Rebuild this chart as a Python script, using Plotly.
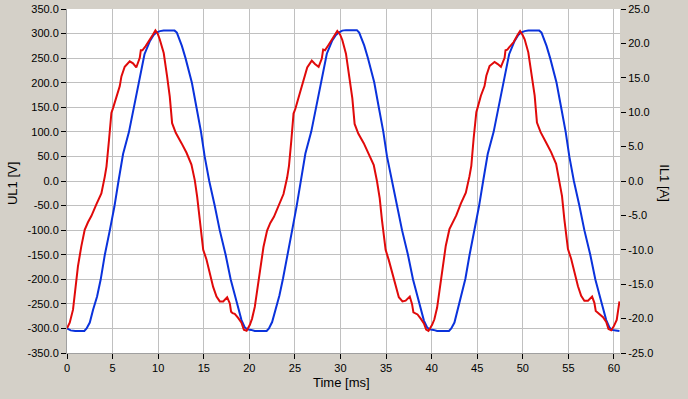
import plotly.graph_objects as go

# ---- data ----
red_time_ms = [
    0.0, 0.3, 0.66, 1.02, 1.2, 1.57, 1.94, 2.3, 2.67, 3.22, 3.77, 4.14, 4.33, 4.61, 4.87, 5.05, 5.42, 5.79, 5.97, 6.33,
    6.88, 7.24, 7.6, 7.98, 8.1, 8.27, 8.63, 9.0, 9.44, 9.7, 9.95, 10.17, 10.61, 10.98, 11.27, 11.53, 11.93, 12.56, 13.11, 13.65,
    14.02, 14.28, 14.57, 14.76, 14.94, 15.3, 15.67, 16.03, 16.4, 16.76, 17.13, 17.57, 17.86, 18.0, 18.16, 18.4, 18.77, 19.14, 19.4, 19.7,
    20.06, 20.3, 20.6, 20.97, 21.2, 21.55, 21.95, 22.3, 22.7, 23.2, 23.75, 24.15, 24.35, 24.6, 24.85, 25.05, 25.4, 25.8, 26.0, 26.35,
    26.85, 27.2, 27.6, 27.95, 28.1, 28.3, 28.65, 29.0, 29.4, 29.65, 29.95, 30.2, 30.6, 31.0, 31.3, 31.55, 31.95, 32.55, 33.1, 33.65,
    34.0, 34.3, 34.55, 34.75, 34.95, 35.3, 35.7, 36.05, 36.4, 36.8, 37.15, 37.6, 37.85, 38.0, 38.2, 38.45, 38.8, 39.15, 39.4, 39.65,
    40.05, 40.3, 40.6, 40.95, 41.2, 41.55, 41.95, 42.3, 42.7, 43.2, 43.75, 44.15, 44.35, 44.6, 44.9, 45.05, 45.4, 45.8, 46.0, 46.35,
    46.9, 47.25, 47.6, 48.0, 48.1, 48.3, 48.65, 49.0, 49.45, 49.7, 49.95, 50.2, 50.6, 51.0, 51.3, 51.55, 51.95, 52.55, 53.1, 53.65,
    54.0, 54.3, 54.55, 54.75, 54.95, 55.3, 55.65, 56.05, 56.4, 56.75, 57.15, 57.6, 57.85, 58.0, 58.2, 58.4, 58.8, 59.15, 59.4, 59.7,
    59.95, 60.3, 60.6,
]
il1_amps = [
    -21.4, -20.6, -18.7, -14.9, -12.4, -9.5, -7.1, -6.0, -5.1, -3.4, -1.8, 0.6, 2.1, 6.0, 9.9, 10.6, 12.3, 13.8, 15.2, 16.6,
    17.4, 17.1, 16.5, 17.9, 19.0, 19.0, 19.6, 20.3, 21.3, 21.9, 21.4, 20.6, 18.6, 15.2, 12.3, 8.4, 7.0, 5.5, 4.1, 2.4,
    0.1, -2.3, -5.6, -8.1, -10.0, -11.4, -13.4, -15.4, -16.8, -17.5, -17.5, -16.9, -17.8, -19.0, -19.2, -19.3, -19.9, -20.6, -21.6, -21.75,
    -20.9, -20.0, -18.3, -14.9, -12.6, -9.6, -7.2, -6.1, -5.2, -3.5, -1.9, 0.5, 2.2, 5.8, 9.8, 10.5, 12.2, 13.9, 15.1, 16.5,
    17.5, 17.0, 16.6, 17.8, 19.1, 19.0, 19.7, 20.4, 21.2, 21.8, 21.3, 20.5, 18.5, 15.0, 12.0, 8.3, 6.9, 5.5, 4.0, 2.3,
    0.0, -2.5, -5.7, -8.2, -10.0, -11.5, -13.5, -15.5, -16.9, -17.5, -17.4, -16.8, -17.9, -19.1, -19.2, -19.4, -20.0, -20.7, -21.6, -21.8,
    -20.9, -20.1, -18.4, -15.0, -12.5, -9.4, -7.0, -6.0, -5.0, -3.3, -1.7, 0.7, 2.2, 6.1, 10.0, 10.7, 12.4, 13.8, 15.3, 16.7,
    17.3, 17.0, 16.6, 17.9, 19.0, 19.1, 19.6, 20.2, 21.3, 21.8, 21.3, 20.6, 18.7, 15.3, 12.4, 8.5, 7.1, 5.6, 4.2, 2.5,
    0.2, -2.2, -5.5, -8.0, -9.9, -11.3, -13.3, -15.3, -16.7, -17.4, -17.4, -16.8, -17.7, -18.9, -19.1, -19.3, -19.8, -20.5, -21.5, -21.7,
    -21.2, -20.2, -17.5,
]

blue_time_ms = [
    0.0, 0.4, 0.9, 1.9, 2.15, 2.5, 2.86, 3.3, 3.7, 4.15, 4.7, 5.2, 5.65, 6.15, 6.8, 7.35, 7.9, 8.5, 9.1, 9.5,
    9.8, 10.2, 10.6, 11.8, 12.05, 12.3, 12.6, 13.0, 13.7, 14.2, 14.7, 15.1, 15.6, 16.2, 16.75, 17.4, 17.95, 18.6, 19.14, 19.5, 19.8,
    20.2, 20.6, 21.9, 22.15, 22.5, 22.85, 23.3, 23.7, 24.15, 24.7, 25.2, 25.65, 26.15, 26.8, 27.35, 27.9, 28.5, 29.1, 29.5,
    29.8, 30.2, 30.6, 31.8, 32.05, 32.3, 32.6, 33.0, 33.7, 34.2, 34.7, 35.1, 35.6, 36.2, 36.75, 37.4, 37.95, 38.6, 39.15, 39.5, 39.8,
    40.2, 40.6, 41.9, 42.15, 42.5, 42.85, 43.3, 43.7, 44.15, 44.7, 45.2, 45.65, 46.15, 46.8, 47.35, 47.9, 48.5, 49.1, 49.5,
    49.8, 50.2, 50.6, 51.8, 52.05, 52.3, 52.6, 53.0, 53.7, 54.2, 54.7, 55.1, 55.6, 56.2, 56.75, 57.4, 57.95, 58.6, 59.15, 59.5, 59.8,
    60.2, 60.6,
]
ul1_volts = [
    -300, -304, -305, -305, -300, -288, -262, -235, -200, -150, -100, -52, 0, 55, 100, 150, 205, 258, 285, 297,
    302, 305, 306, 306, 302, 290, 275, 250, 200, 150, 100, 50, 0, -50, -100, -150, -200, -245, -283, -298, -302,
    -303, -305, -305, -300, -287, -263, -233, -198, -150, -100, -50, 2, 56, 101, 151, 206, 259, 286, 297,
    302, 306, 307, 307, 302, 291, 276, 251, 201, 150, 100, 50, 1, -50, -100, -150, -200, -246, -284, -298, -302,
    -303, -305, -305, -300, -288, -262, -234, -199, -151, -101, -51, 0, 55, 100, 150, 205, 258, 285, 297,
    302, 305, 306, 306, 302, 290, 275, 250, 200, 150, 100, 50, 0, -50, -100, -150, -200, -245, -283, -298, -303,
    -304, -305,
]

x_tick_values = [0, 5, 10, 15, 20, 25, 30, 35, 40, 45, 50, 55, 60]
x_tick_labels = ["0", "5", "10", "15", "20", "25", "30", "35", "40", "45", "50", "55", "60"]
y_tick_values = [-350, -300, -250, -200, -150, -100, -50, 0, 50, 100, 150, 200, 250, 300, 350]
y_tick_labels = ["-350.0", "-300.0", "-250.0", "-200.0", "-150.0", "-100.0", "-50.0", "0.0",
                 "50.0", "100.0", "150.0", "200.0", "250.0", "300.0", "350.0"]
y2_tick_values = [-25, -20, -15, -10, -5, 0, 5, 10, 15, 20, 25]
y2_tick_labels = ["-25.0", "-20.0", "-15.0", "-10.0", "-5.0", "0.0", "5.0", "10.0", "15.0", "20.0", "25.0"]

# ---- figure ----
tick_font = dict(family="Liberation Sans Narrow, Arial Narrow, Liberation Sans, Arial", size=11, color="black")
title_font = dict(family="Liberation Sans, Arial", size=13, color="black")

fig = go.Figure()
fig.add_trace(go.Scatter(x=blue_time_ms, y=ul1_volts, mode="lines", name="UL1",
                         line=dict(color="#0A32DC", width=2), yaxis="y"))
fig.add_trace(go.Scatter(x=red_time_ms, y=il1_amps, mode="lines", name="IL1",
                         line=dict(color="#E00A0A", width=2), yaxis="y2"))

fig.update_layout(
    width=688, height=399,
    margin=dict(l=67, r=68, t=9, b=46, autoexpand=False),
    paper_bgcolor="#D4D0C8",
    plot_bgcolor="white",
    showlegend=False,
    xaxis=dict(range=[0, 60.66], tickvals=x_tick_values, ticktext=x_tick_labels, automargin=False,
               showgrid=True, gridcolor="#C0C0C0", gridwidth=1, zeroline=False,
               showline=True, linecolor="#A0A0A0", linewidth=1,
               ticks="outside", ticklen=5, tickcolor="black", tickfont=tick_font),
    yaxis=dict(range=[-350, 350], tickvals=y_tick_values, ticktext=y_tick_labels, automargin=False,
               showgrid=True, gridcolor="#C0C0C0", gridwidth=1, zeroline=False,
               showline=True, linecolor="#A0A0A0", linewidth=1,
               ticks="outside", ticklen=5, tickcolor="black", tickfont=tick_font),
    yaxis2=dict(range=[-25, 25], tickvals=y2_tick_values, ticktext=y2_tick_labels, automargin=False,
                overlaying="y", side="right", showgrid=False, zeroline=False,
                showline=False, ticks="outside", ticklen=5, tickcolor="black", tickfont=tick_font),
    annotations=[
        dict(text="Time [ms]", xref="paper", yref="paper", x=0.497, y=-0.087,
             showarrow=False, font=title_font, xanchor="center", yanchor="middle"),
        dict(text="UL1 [V]", xref="paper", yref="paper", x=-0.0995, y=0.494,
             showarrow=False, font=title_font, textangle=-90, xanchor="center", yanchor="middle"),
        dict(text="IL1 [A]", xref="paper", yref="paper", x=1.081, y=0.494,
             showarrow=False, font=title_font, textangle=90, xanchor="center", yanchor="middle"),
    ],
)

fig.write_html("out.html",
               config={"displayModeBar": False},
               post_script="document.body.style.margin='0';document.body.style.overflow='hidden';"
                           "document.body.style.background='#D4D0C8';")
